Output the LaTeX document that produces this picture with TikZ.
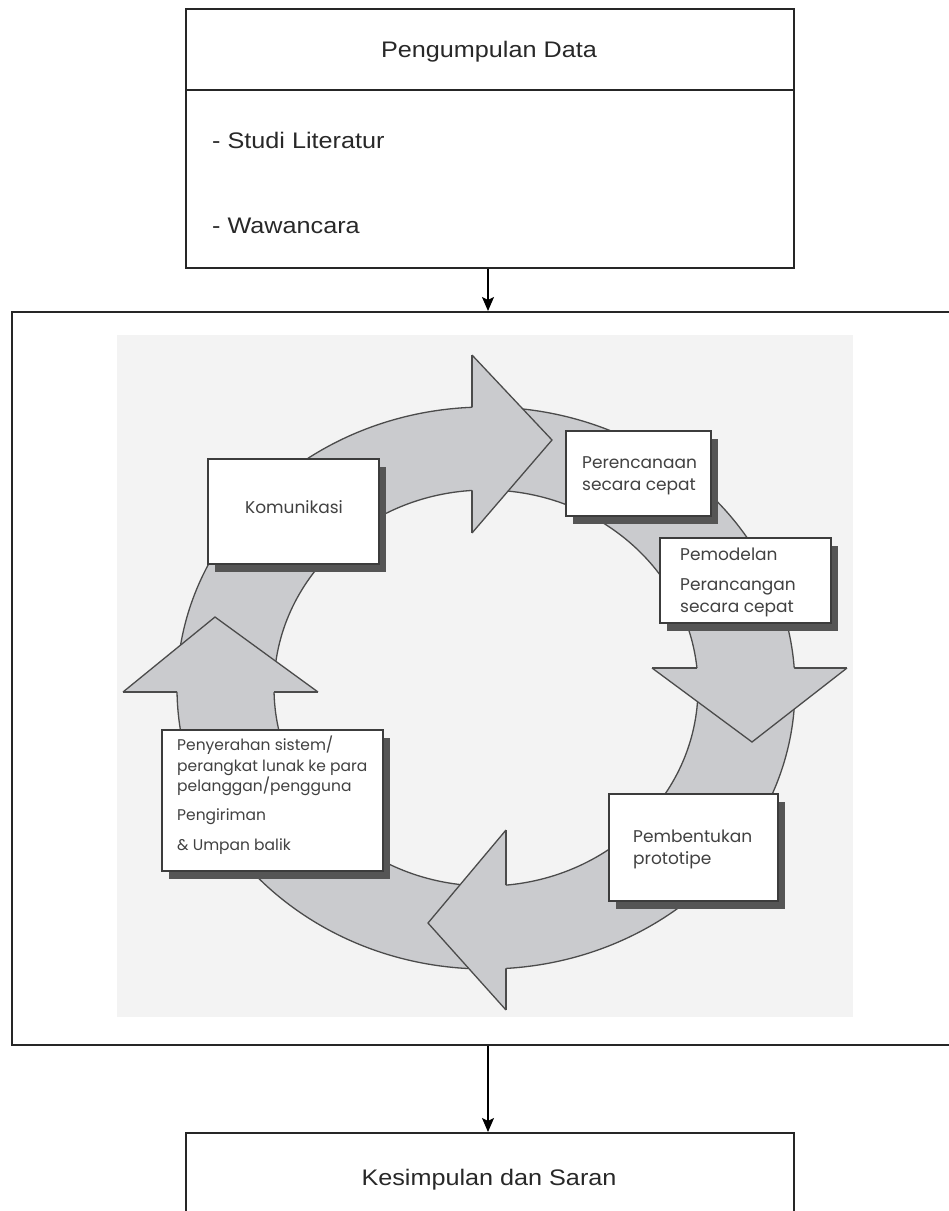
\documentclass[tikz,border=0pt]{standalone}
\usepackage{fontspec}
\setmainfont{Liberation Sans}
\newfontfamily\flowfont[FakeStretch=1.12]{Liberation Sans}
\newfontfamily\cyclefont{Poppins}
\usetikzlibrary{arrows.meta,shadows}
\definecolor{ringfill}{RGB}{202,203,206}
\definecolor{ringline}{RGB}{75,75,75}
\definecolor{boxline}{RGB}{60,60,60}
\definecolor{shadowc}{RGB}{85,85,85}
\definecolor{cyctext}{RGB}{65,65,65}
\definecolor{bgscan}{RGB}{243,243,243}
\definecolor{flowtext}{RGB}{40,40,40}
\tikzset{
  flowbox/.style={draw=black!85, line width=1.6pt, fill=white, inner sep=0pt},
  flowtxt/.style={font=\flowfont\fontsize{22.5}{27}\selectfont, text=flowtext, inner sep=0pt},
  flowarrow/.style={draw=black, line width=1.4pt, -{Stealth[length=14pt,width=12pt,inset=3pt]}},
  cycbox/.style={draw=boxline, line width=1.6pt, fill=white, inner sep=0pt, anchor=north west,
    drop shadow={shadow xshift=7pt, shadow yshift=-8pt, fill=shadowc, opacity=1}},
  cyctxt/.style={font=\cyclefont\fontsize{17}{20}\selectfont, text=cyctext, inner sep=0pt, anchor=base west},
  cycsmall/.style={cyctxt, font=\cyclefont\fontsize{15.5}{19}\selectfont},
  ringband/.style={fill=ringfill},
  ringedge/.style={draw=ringline, line width=1.3pt},
}
\begin{document}
\begin{tikzpicture}[x=1pt,y=-1pt]
\useasboundingbox (0,0) rectangle (949,1211);
\clip (0,0) rectangle (949,1211);

% top box
\node[flowbox, anchor=north west, minimum width=608pt, minimum height=259pt] (top) at (185,8) {};
\coordinate (divL) at (185,90);
\coordinate (divR) at (793,90);
\draw[draw=black!85, line width=1.6pt] (divL) -- (divR);
\node[flowtxt, anchor=base] (tTitle) at (489,57) {Pengumpulan Data};
\node[flowtxt, anchor=base west] (tStudi) at (212,148) {- Studi Literatur};
\node[flowtxt, anchor=base west] (tWawan) at (212,233) {- Wawancara};

% big box
\node[flowbox, anchor=north west, minimum width=960pt, minimum height=733pt] (big) at (11,311) {};
\fill[bgscan] (117,335) rectangle (853,1017);

% bottom box
\node[flowbox, anchor=north west, minimum width=608pt, minimum height=110pt] (bot) at (185,1132) {};
\node[flowtxt, anchor=base] (tKes) at (489,1185) {Kesimpulan dan Saran};

% connectors
\draw[flowarrow] (top.south -| 488,0) -- (big.north -| 488,0);
\draw[flowarrow] (big.south -| 488,0) -- (bot.north -| 488,0);

% ring
\coordinate (c) at (486,688);
\fill[ringband, even odd rule] (c) ellipse [x radius=309pt, y radius=281pt] (c) ellipse [x radius=212pt, y radius=198pt];
\draw[ringedge] (c) ellipse [x radius=309pt, y radius=281pt];
\draw[ringedge] (c) ellipse [x radius=212pt, y radius=198pt];

% arrowheads
\coordinate (a1) at (472,355); \coordinate (t1) at (552,440); \coordinate (b1) at (472,533);
\coordinate (a2) at (652,668); \coordinate (t2) at (752,742); \coordinate (b2) at (847,668);
\coordinate (a3) at (506,830); \coordinate (t3) at (428,923); \coordinate (b3) at (506,1010);
\coordinate (a4) at (123,692); \coordinate (t4) at (215,617); \coordinate (b4) at (318,692);
\foreach \i in {1,2,3,4}{
  \fill[ringband] (a\i) -- (t\i) -- (b\i) -- cycle;
  \draw[ringedge, line join=miter] (a\i) -- (t\i) -- (b\i);
}
\begin{scope}[even odd rule]
  \clip (-10,-10) rectangle (960,1220) (c) ellipse [x radius=309pt, y radius=281pt] (c) ellipse [x radius=212pt, y radius=198pt];
  \foreach \i in {1,2,3,4}{ \draw[ringedge] (a\i) -- (b\i); }
\end{scope}

% cycle boxes
\node[cycbox, minimum width=171pt, minimum height=105pt] (komu) at (207,458) {};
\node[cyctxt, anchor=base] (komuT) at (294,513) {Komunikasi};

\node[cycbox, minimum width=145pt, minimum height=85pt] (renc) at (565,430) {};
\node[cyctxt] (rencT1) at (582,468) {Perencanaan};
\node[cyctxt] (rencT2) at (582,490) {secara cepat};

\node[cycbox, minimum width=171pt, minimum height=85pt] (model) at (659,537) {};
\node[cyctxt] (modT1) at (680,560) {Pemodelan};
\node[cyctxt] (modT2) at (680,590) {Perancangan};
\node[cyctxt] (modT3) at (680,612) {secara cepat};

\node[cycbox, minimum width=221pt, minimum height=141pt] (serah) at (161,729) {};
\node[cycsmall] (serT1) at (177,750) {Penyerahan sistem/};
\node[cycsmall] (serT2) at (177,771) {perangkat lunak ke para};
\node[cycsmall] (serT3) at (177,791) {pelanggan/pengguna};
\node[cycsmall] (serT4) at (177,820) {Pengiriman};
\node[cycsmall] (serT5) at (177,850) {\& Umpan balik};

\node[cycbox, minimum width=169pt, minimum height=107pt] (bentuk) at (608,793) {};
\node[cyctxt] (benT1) at (633,842) {Pembentukan};
\node[cyctxt] (benT2) at (633,864) {prototipe};
\end{tikzpicture}
\end{document}
